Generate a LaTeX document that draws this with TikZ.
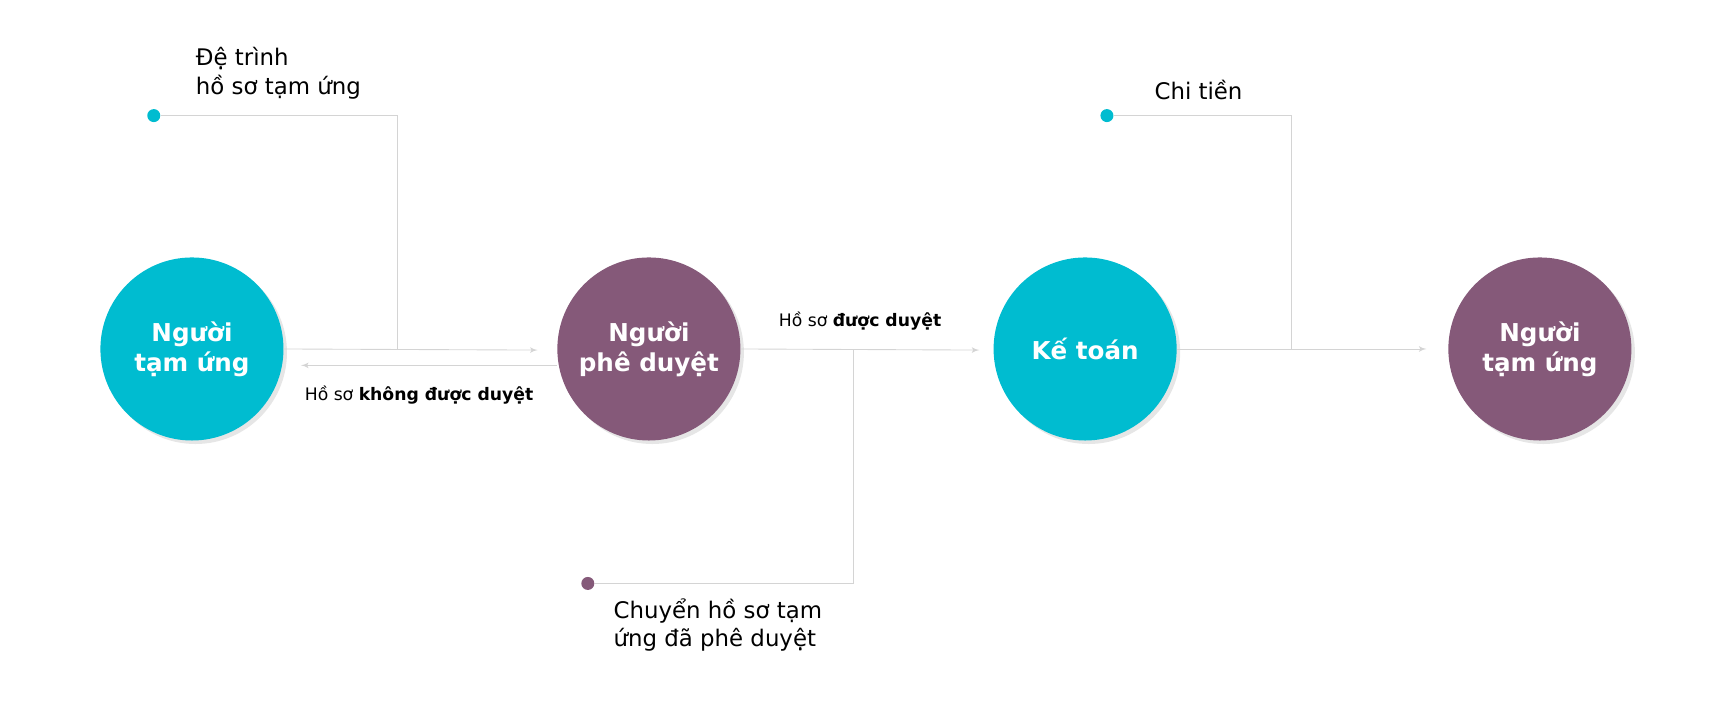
\documentclass[tikz,border=0pt]{standalone}
\usepackage{fontspec}
\setmainfont{DejaVu Sans}
\usetikzlibrary{arrows,positioning,shadows}
\definecolor{colcyan}{RGB}{0,188,208}
\definecolor{colpurp}{RGB}{133,89,121}
\definecolor{colline}{RGB}{212,212,212}
\tikzstyle{role}=[circle, minimum size=3.66cm, inner sep=0pt, text=white, align=center, font=\fontsize{14}{17}\selectfont\bfseries, drop shadow={opacity=0.2, shadow xshift=0.07cm, shadow yshift=-0.07cm}]
\tikzstyle{flow}=[draw=colline, line width=0.5pt]
\tikzstyle{dot}=[circle, inner sep=0pt, minimum size=0.26cm]
\tikzstyle{note}=[align=left, anchor=north west, font=\fontsize{13}{16}\selectfont]
\tikzstyle{lbl}=[font=\fontsize{9.8}{12}\selectfont]
\begin{document}
\begin{tikzpicture}[x=0.02181cm,y=-0.02181cm,>=latex']
		    \useasboundingbox (0,0) rectangle (1568,643);
		    \node [role, fill=colcyan] (a) at (176,320) {Người\\tạm ứng};
		    \node [role, fill=colpurp] (b) at (595,320) {Người\\phê duyệt};
		    \node [role, fill=colcyan] (c) at (995,320) {Kế toán};
		    \node [role, fill=colpurp] (d) at (1412,320) {Người\\tạm ứng};
		    % callout dots and corners
		    \node [dot, fill=colcyan] (p1) at (141,106) {};
		    \coordinate (k1) at (364,106);
		    \coordinate (j1) at (364,321);
		    \node [dot, fill=colcyan] (p2) at (1015,106) {};
		    \coordinate (k2) at (1184,106);
		    \coordinate (j2) at (1184,320);
		    \node [dot, fill=colpurp] (p3) at (539,535) {};
		    \coordinate (k3) at (783,535);
		    \coordinate (j3) at (783,321);
		    \node [note] (t1) at (174,38) {Đệ trình\\hồ sơ tạm ứng};
		    \node [note] (t2) at (1053,68) {Chi tiền};
		    \node [note] (t3) at (557,543) {Chuyển hồ sơ tạm\\ứng đã phê duyệt};
		    % flows
		    \draw [flow,->] (a.east) -- (493,321);
		    \draw [flow,->] (b.west |- 0,335) -- (276,335) node [lbl, below right=0.28cm and -0.05cm] (n1) {Hồ sơ \textbf{không được duyệt}};
		    \draw [flow,->] (b.east) -- (898,321) node [lbl, pos=0.5, above=0.27cm] (n2) {Hồ sơ \textbf{được duyệt}};
		    \draw [flow,->] (c.east) -- (1308,320);
		    \draw [flow] (p1) -- (k1) -- (j1);
		    \draw [flow] (p2) -- (k2) -- (j2);
		    \draw [flow] (p3) -- (k3) -- (j3);
\end{tikzpicture}
\end{document}
